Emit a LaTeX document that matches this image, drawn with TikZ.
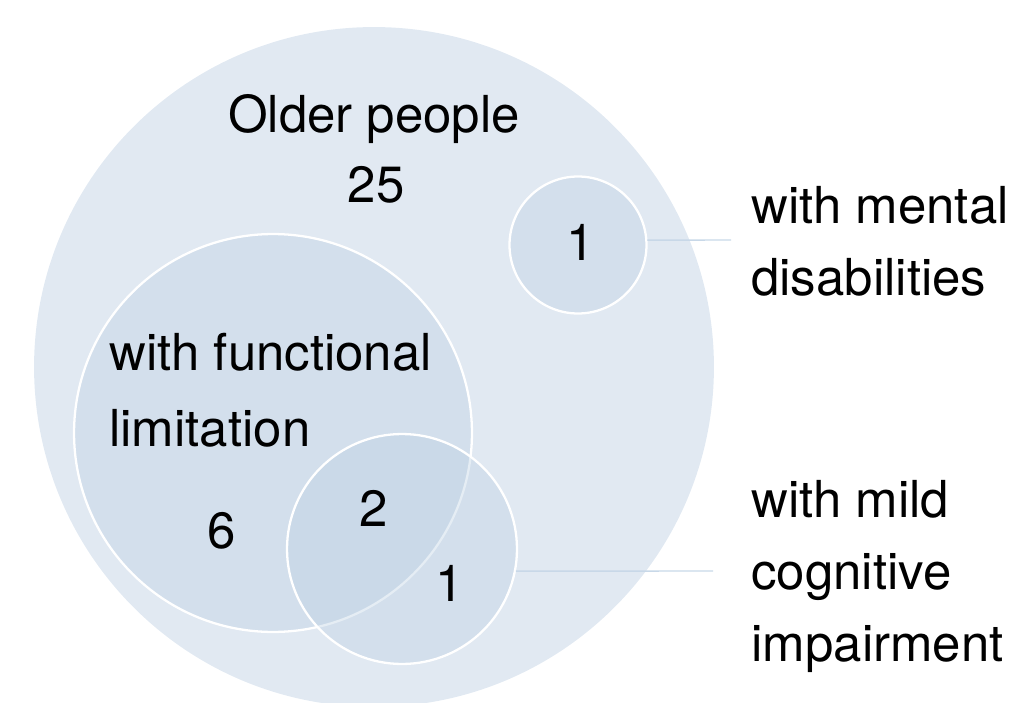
\documentclass[tikz,border=0pt]{standalone}
\usepackage{fontspec}
\setmainfont{TeX Gyre Heros}
\definecolor{outerblue}{RGB}{225,233,242}
\definecolor{innerblue}{RGB}{190,210,228}
\definecolor{leaderblue}{RGB}{200,216,232}

\begin{document}
\begin{tikzpicture}[x=0.02cm, y=-0.02cm,
    every node/.style={font=\fontsize{29}{41}\selectfont, inner sep=0pt},
    group/.style={circle, fill=innerblue, fill opacity=0.4, draw=white, line width=1.3pt},
    leader/.style={leaderblue, line width=0.8pt}]
  \useasboundingbox (0,0) rectangle (1025,703);
  % Sets
  \node[circle, fill=outerblue, minimum size=13.6cm] (older) at (374,367) {};
  \node[group, minimum size=7.96cm] (func) at (273,433) {};
  \node[group, minimum size=4.6cm] (cog) at (402,549) {};
  \node[group, minimum size=2.74cm] (mental) at (578,245) {};
  % Labels inside
  \node[anchor=base] (oldlab) at (374,132) {Older people};
  \node[anchor=base] (oldnum) at (376,202) {25};
  \node[anchor=north west, align=left] (funclab) at (109,333) {with functional\\[2pt]limitation};
  \node (funcnum) at (222,531) {6};
  \node (bothnum) at (374,508) {2};
  \node (cognum) at (450,583) {1};
  \node (mentalnum) at (581,242) {1};
  % Labels outside
  \node[anchor=north west, align=left] (mentallab) at (751,186) {with mental\\disabilities};
  \node[anchor=north west, align=left] (coglab) at (751,480) {with mild\\cognitive\\impairment};
  \coordinate (mentalend) at (731,240);
  \coordinate (cogend) at (713,571);
  \draw[leader] (mental.4) -- (mentalend);
  \draw[leader] (cog.-11) -- (cogend);
\end{tikzpicture}
\end{document}
